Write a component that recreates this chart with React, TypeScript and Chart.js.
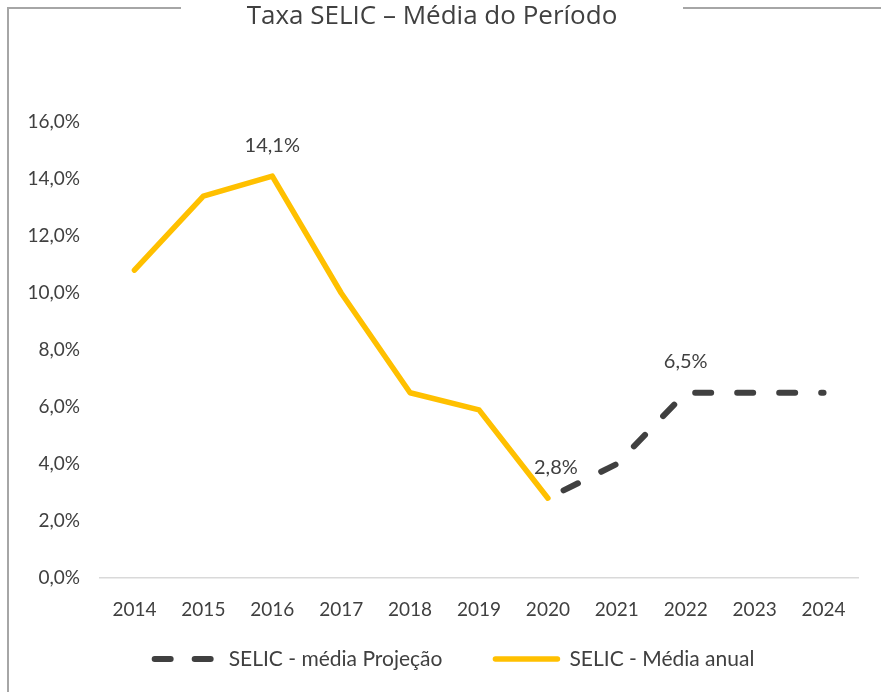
import React, { useEffect, useRef } from "react";
import { Chart, registerables } from "chart.js";

Chart.register(...registerables);

const categories = ["2014", "2015", "2016", "2017", "2018", "2019", "2020", "2021", "2022", "2023", "2024"];
const mediaAnual = [10.8, 13.4, 14.1, 10.0, 6.5, 5.9, 2.8, null, null, null, null];
const mediaProjecao = [null, null, null, null, null, null, 2.8, 4.0, 6.5, 6.5, 6.5];
const yTicks = [0, 2, 4, 6, 8, 10, 12, 14, 16];
// data labels: [datasetIndex, pointIndex]
const labeledPoints: [number, number][] = [[1, 2], [1, 6], [0, 8]];
const titleText = "Taxa SELIC – Média do Período";

const TEXT = "#404040";
const FONT = "Lato, sans-serif";
const FSIZE = 19;
const LEGEND_FSIZE = 21;
const LABEL_FSIZE = 20;

const fmt = (v: number) => v.toFixed(1).replace(".", ",") + "%";

const framePlugin = {
  id: "frameTitle",
  afterDraw(chart: any) {
    const ctx = chart.ctx;
    ctx.save();
    ctx.strokeStyle = "#a6a6a6";
    ctx.lineWidth = 2;
    ctx.beginPath();
    ctx.moveTo(8, 692);
    ctx.lineTo(8, 8);
    ctx.lineTo(181, 8);
    ctx.moveTo(683, 8);
    ctx.lineTo(881, 8);
    ctx.stroke();
    ctx.fillStyle = TEXT;
    ctx.font = "26px 'Open Sans', sans-serif";
    ctx.textAlign = "center";
    ctx.textBaseline = "middle";
    ctx.fillText(titleText, 432, 17);
    ctx.restore();
  },
};

const labelPlugin = {
  id: "pointLabels",
  afterDatasetsDraw(chart: any) {
    const ctx = chart.ctx;
    ctx.save();
    ctx.fillStyle = TEXT;
    ctx.font = LABEL_FSIZE + "px " + FONT;
    ctx.textAlign = "center";
    ctx.textBaseline = "middle";
    labeledPoints.forEach(([di, pi]) => {
      const meta = chart.getDatasetMeta(di);
      const el = meta.data[pi];
      const v = chart.data.datasets[di].data[pi];
      if (!el || v == null) return;
      const dx = pi === 6 ? 8 : 0;
      ctx.fillText(fmt(v), el.x + dx, el.y - 31);
    });
    ctx.restore();
  },
};

// legend drawn from dataset styles, Projeção first
const legendPlugin = {
  id: "customLegend",
  afterDraw(chart: any) {
    const ctx = chart.ctx;
    const sampleW = 68;
    const gapAfterSample = 9;
    const gapBetween = 50;
    const cy = 659;
    ctx.save();
    ctx.font = LEGEND_FSIZE + "px " + FONT;
    const items = chart.data.datasets.map((ds: any) => ({ ds, w: ctx.measureText(ds.label).width }));
    const total = items.reduce((a: number, it: any) => a + sampleW + gapAfterSample + it.w, 0) + gapBetween * (items.length - 1);
    let x = 453 - total / 2;
    items.forEach((it: any) => {
      const ds = it.ds;
      ctx.save();
      ctx.strokeStyle = ds.borderColor;
      ctx.lineWidth = ds.borderWidth;
      ctx.lineCap = "round";
      ctx.setLineDash(ds.borderDash ? [16, 24] : []);
      ctx.lineDashOffset = 0;
      ctx.beginPath();
      ctx.moveTo(x + 3, cy);
      ctx.lineTo(x + sampleW - 3, cy);
      ctx.stroke();
      ctx.restore();
      ctx.fillStyle = TEXT;
      ctx.textAlign = "left";
      ctx.textBaseline = "middle";
      ctx.fillText(ds.label, x + sampleW + gapAfterSample, cy);
      x += sampleW + gapAfterSample + it.w + gapBetween;
    });
    ctx.restore();
  },
};

export default function App() {
  const ref = useRef<HTMLCanvasElement>(null);
  useEffect(() => {
    if (!ref.current) return;
    const chart = new Chart(ref.current, {
      type: "line",
      data: {
        labels: categories,
        datasets: [
          {
            label: "SELIC - média Projeção",
            data: mediaProjecao,
            borderColor: "#404040",
            backgroundColor: "#404040",
            borderWidth: 6,
            borderDash: [16, 26],
            borderDashOffset: 24.5,
            borderCapStyle: "round",
            borderJoinStyle: "round",
            pointRadius: 0,
            tension: 0,
            spanGaps: false,
          },
          {
            label: "SELIC - Média anual",
            data: mediaAnual,
            borderColor: "#FFC000",
            backgroundColor: "#FFC000",
            borderWidth: 5.5,
            borderCapStyle: "round",
            borderJoinStyle: "round",
            pointRadius: 0,
            tension: 0,
          },
        ],
      },
      options: {
        animation: false,
        responsive: false,
        maintainAspectRatio: false,
        layout: { padding: { left: 0, right: 23, top: 122, bottom: 64 } },
        scales: {
          x: {
            offset: true,
            grid: { display: false, drawTicks: false },
            border: { display: true, color: "#d9d9d9", width: 1.5 },
            ticks: { color: TEXT, font: { family: FONT, size: FSIZE }, padding: 20, maxRotation: 0, autoSkip: false },
            afterFit: (s: any) => { s.height = 50; },
          },
          y: {
            min: 0,
            max: 16,
            afterBuildTicks: (s: any) => { s.ticks = yTicks.map((v) => ({ value: v })); },
            grid: { display: false, drawTicks: false },
            border: { display: false },
            ticks: {
              color: TEXT,
              font: { family: FONT, size: FSIZE },
              padding: 20,
              callback: (v: any) => fmt(Number(v)),
            },
            afterFit: (s: any) => { s.width = 100; },
          },
        },
        plugins: {
          title: { display: false },
          tooltip: { enabled: false },
          legend: { display: false },
        },
      },
      plugins: [framePlugin, labelPlugin, legendPlugin],
    });
    return () => chart.destroy();
  }, []);
  return (
    <div style={{ position: "fixed", left: 0, top: 0, width: 881, height: 692, background: "#fff" }}>
      <canvas ref={ref} width={881} height={692} style={{ width: 881, height: 692, display: "block" }} />
    </div>
  );
}
